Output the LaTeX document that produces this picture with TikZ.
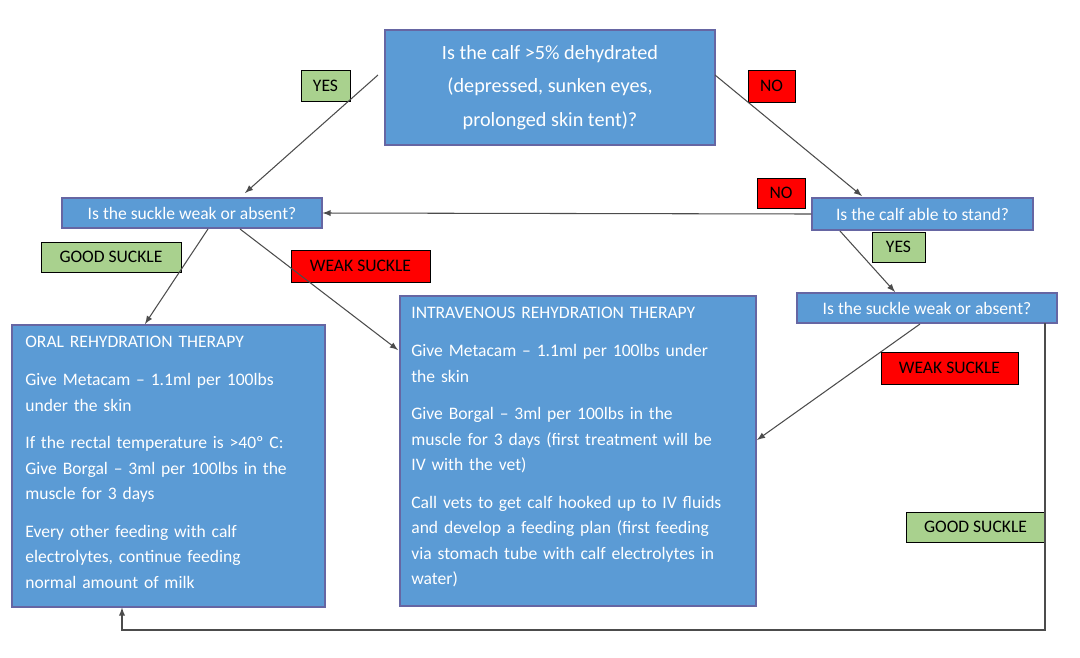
\documentclass[tikz,border=0pt]{standalone}
\usepackage{fontspec}
\setmainfont{Carlito}
\begin{document}
\begin{tikzpicture}[x=0.02cm,y=-0.02cm,
  box/.style={draw=blue!40!black!60!white, fill=bl, text=white, inner sep=0pt, line width=0.6pt},
  tag/.style={draw=black, line width=0.4pt, inner sep=0pt, font=\fontsize{10}{12}\selectfont},
  yes/.style={tag, fill=gr},
  no/.style={tag, fill=rd},
  arr/.style={draw=black!70, line width=0.6pt, ->, >=latex}]
\definecolor{bl}{HTML}{5B9BD5}
\definecolor{gr}{HTML}{A9D18E}
\definecolor{rd}{HTML}{FF0000}
\useasboundingbox (0,0) rectangle (1080,657);
\fontsize{10}{14.5}\selectfont
\node[box, minimum width=330*0.02cm, minimum height=115*0.02cm, align=center, font=\fontsize{11.5}{19}\selectfont] (q1) at (550,87.5) {Is the calf >5\% dehydrated\\(depressed, sunken eyes,\\prolonged skin tent)?};
\node[box, minimum width=260*0.02cm, minimum height=30*0.02cm] (s1) at (192,213) {Is the suckle weak or absent?};
\node[box, minimum width=221*0.02cm, minimum height=32*0.02cm] (st) at (922.5,214) {Is the calf able to stand?};
\node[box, minimum width=260*0.02cm, minimum height=30*0.02cm] (s2) at (927,308) {Is the suckle weak or absent?};
\node[box, minimum width=313*0.02cm, minimum height=282*0.02cm] (oral) at (168.5,466) {};
\node[anchor=north west, text=white, text width=290*0.02cm, align=left, inner sep=0pt] (oralt) at (25,336) {ORAL REHYDRATION THERAPY\\[7pt]
Give Metacam -- 1.1ml per 100lbs\\under the skin\\[7pt]
If the rectal temperature is >40º C:\\Give Borgal -- 3ml per 100lbs in the\\muscle for 3 days\\[7pt]
Every other feeding with calf\\electrolytes, continue feeding\\normal amount of milk};
\node[box, minimum width=356*0.02cm, minimum height=310*0.02cm] (iv) at (578,451) {};
\node[anchor=north west, text=white, text width=340*0.02cm, align=left, inner sep=0pt] (ivt) at (411,307) {INTRAVENOUS REHYDRATION THERAPY\\[7pt]
Give Metacam -- 1.1ml per 100lbs under\\the skin\\[7pt]
Give Borgal -- 3ml per 100lbs in the\\muscle for 3 days (first treatment will be\\IV with the vet)\\[7pt]
Call vets to get calf hooked up to IV fluids\\and develop a feeding plan (first feeding\\via stomach tube with calf electrolytes in\\water)};
\node[yes, minimum width=49*0.02cm, minimum height=31*0.02cm] (l1) at (325.5,85.5) {YES};
\node[no, minimum width=47*0.02cm, minimum height=32*0.02cm] (l2) at (771.5,86) {NO};
\node[no, minimum width=48*0.02cm, minimum height=30*0.02cm] (l3) at (781,193) {NO};
\node[yes, minimum width=53*0.02cm, minimum height=30*0.02cm] (l4) at (898.5,247) {YES};
\node[yes, minimum width=140*0.02cm, minimum height=30*0.02cm] (l5) at (111,257) {GOOD SUCKLE};
\node[no, minimum width=139*0.02cm, minimum height=32*0.02cm] (l6) at (360.5,266) {WEAK SUCKLE};
\node[no, minimum width=137*0.02cm, minimum height=32*0.02cm] (l7) at (949.5,368) {WEAK SUCKLE};
\node[yes, minimum width=139*0.02cm, minimum height=30*0.02cm] (l8) at (975.5,527) {GOOD SUCKLE};
\coordinate (c1) at (1045,323);
\coordinate (c2) at (1045,630);
\coordinate (c3) at (122,630);
\draw[arr] (378,75) -- (245,193);
\draw[arr] (715,75) -- (862,196);
\draw[arr] (st.west) -- (s1.east);
\draw[arr] (208,229) -- (145,324);
\draw[arr] (240,229) -- (398,350);
\draw[arr] (840,231) -- (895,292);
\draw[arr] (920,324) -- (757,440);
\draw[arr] (c1) -- (c2) -- (c3) -- (oral.south -| c3);
\end{tikzpicture}
\end{document}
